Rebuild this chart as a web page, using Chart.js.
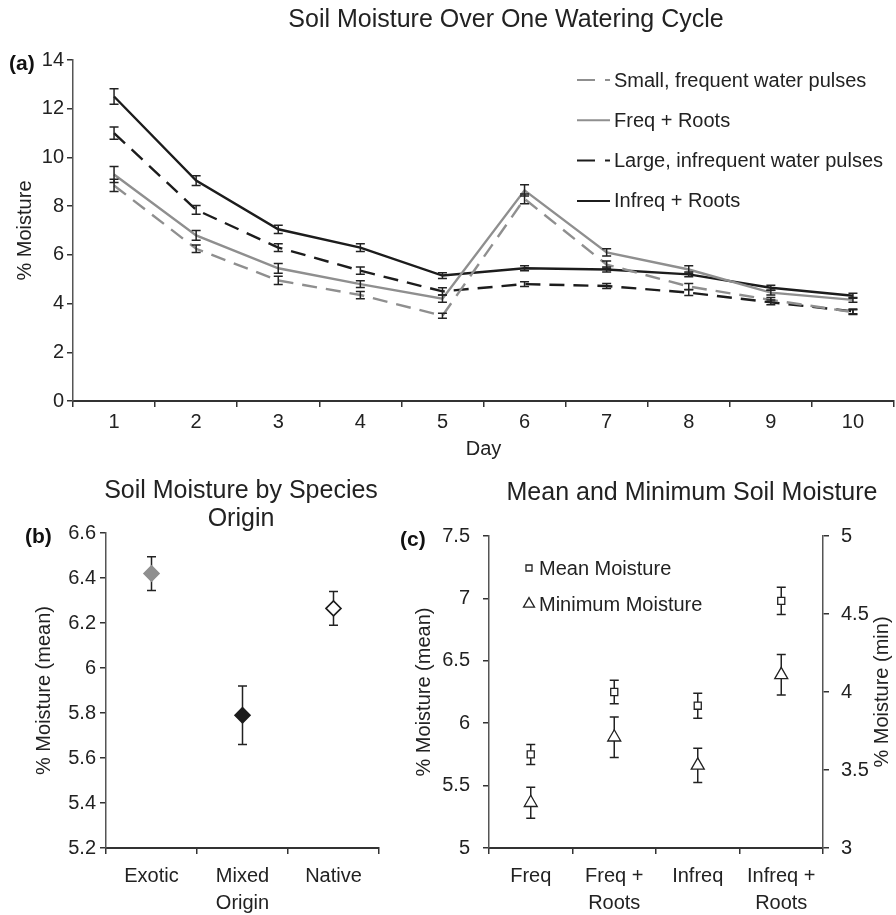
<!DOCTYPE html>
<html>
<head>
<meta charset="utf-8">
<title>Soil Moisture</title>
<script src="https://cdn.jsdelivr.net/npm/chart.js"></script>
<style>
  body { margin: 0; width: 896px; height: 915px; position: relative; overflow: hidden; background: #fff;
         font-family: "Liberation Sans", Arial, sans-serif; color: #222; }
  canvas { position: absolute; }
  .title { position: absolute; font-size: 25px; line-height: 28px; text-align: center;
           white-space: nowrap; transform: translateX(-50%); }
</style>
</head>
<body>
<canvas id="chartA" width="896" height="465" style="left:0;top:0"></canvas>
<canvas id="chartB" width="390" height="450" style="left:0;top:465px"></canvas>
<canvas id="chartC" width="506" height="450" style="left:390px;top:465px"></canvas>
<div class="title" style="left:506px;top:4px">Soil Moisture Over One Watering Cycle</div>
<div class="title" style="left:241px;top:475px">Soil Moisture by Species<br>Origin</div>
<div class="title" style="left:692px;top:477px">Mean and Minimum Soil Moisture</div>

<script>
// (a) soil moisture per day, mean and s.e.
const days = ['1', '2', '3', '4', '5', '6', '7', '8', '9', '10'];

const smallFreq      = [8.85, 6.25, 4.95, 4.35, 3.5, 8.3, 5.6, 4.7, 4.15, 3.65];
const smallFreqErr   = [0.25, 0.15, 0.17, 0.15, 0.1, 0.2, 0.15, 0.12, 0.1, 0.1];
const freqRoots      = [9.3, 6.8, 5.45, 4.8, 4.2, 8.65, 6.1, 5.4, 4.45, 4.15];
const freqRootsErr   = [0.33, 0.2, 0.2, 0.14, 0.15, 0.23, 0.15, 0.15, 0.1, 0.1];
const largeInfreq    = [11.0, 7.85, 6.3, 5.35, 4.5, 4.8, 4.72, 4.45, 4.05, 3.68];
const largeInfreqErr = [0.25, 0.18, 0.16, 0.15, 0.15, 0.1, 0.1, 0.12, 0.1, 0.1];
const infreqRoots    = [12.5, 9.05, 7.05, 6.3, 5.15, 5.45, 5.4, 5.2, 4.65, 4.32];
const infreqRootsErr = [0.32, 0.2, 0.17, 0.16, 0.12, 0.1, 0.1, 0.1, 0.1, 0.1];

// (b) by species origin
const origins    = ['Exotic', ['Mixed', 'Origin'], 'Native'];
const originMean = [6.42, 5.79, 6.265];
const originErr  = [0.075, 0.13, 0.075];

// (c) mean and minimum per treatment
const treatments   = ['Freq', ['Freq +', 'Roots'], 'Infreq', ['Infreq +', 'Roots']];
const meanMoisture = [5.75, 6.25, 6.14, 6.98];
const meanErr      = [0.08, 0.095, 0.1, 0.11];
const minMoisture  = [3.29, 3.71, 3.53, 4.11];
const minErr       = [0.1, 0.13, 0.11, 0.13];

const GRAY = '#8f8f8f';
const BLACK = '#1c1c1c';
const AXIS = '#333';
const FONT = '"Liberation Sans", Arial, sans-serif';

Chart.defaults.font.family = FONT;
Chart.defaults.font.size = 20;
Chart.defaults.color = '#222';

// error bars from the dataset's "errors" list, drawn through the y scale
const errorBars = {
  id: 'errorBars',
  draw(chart, o) {
    const ctx = chart.ctx;
    chart.data.datasets.forEach((ds, i) => {
      if (!ds.errors) return;
      const meta = chart.getDatasetMeta(i);
      const ys = chart.scales[meta.yAxisID];
      ctx.save();
      ctx.strokeStyle = o.color || '#222';
      ctx.lineWidth = 1.5;
      ctx.setLineDash([]);
      meta.data.forEach((pt, j) => {
        const top = ys.getPixelForValue(ds.data[j] + ds.errors[j]);
        const bot = ys.getPixelForValue(ds.data[j] - ds.errors[j]);
        const w = o.cap || 4.5;
        ctx.beginPath();
        ctx.moveTo(pt.x, top); ctx.lineTo(pt.x, bot);
        ctx.moveTo(pt.x - w, top); ctx.lineTo(pt.x + w, top);
        ctx.moveTo(pt.x - w, bot); ctx.lineTo(pt.x + w, bot);
        ctx.stroke();
      });
      ctx.restore();
    });
  },
  beforeDatasetsDraw(chart, args, o) { if (o.behind) this.draw(chart, o); },
  afterDatasetsDraw(chart, args, o) { if (!o.behind) this.draw(chart, o); }
};

// "(a)", "(b)", "(c)" next to the top of each y axis
const panelLabel = {
  id: 'panelLabel',
  afterDraw(chart, args, o) {
    const ctx = chart.ctx;
    ctx.save();
    ctx.font = 'bold 21px ' + FONT;
    ctx.fillStyle = '#111';
    ctx.textBaseline = 'middle';
    ctx.fillText(o.text, o.x, chart.chartArea.top + o.dy);
    ctx.restore();
  }
};

// line legend inside panel (a)
const lineKey = {
  id: 'lineKey',
  afterDraw(chart, args, o) {
    const ctx = chart.ctx;
    chart.data.datasets.forEach((ds, i) => {
      const y = o.y + i * o.step;
      ctx.save();
      ctx.strokeStyle = ds.borderColor;
      ctx.lineWidth = 2;
      ctx.setLineDash(ds.borderDash ? o.dash : []);
      ctx.beginPath();
      ctx.moveTo(o.x, y); ctx.lineTo(o.x + o.len, y);
      ctx.stroke();
      ctx.fillStyle = '#222';
      ctx.font = '20px ' + FONT;
      ctx.textBaseline = 'middle';
      ctx.fillText(ds.label, o.x + o.len + 4, y + 1);
      ctx.restore();
    });
  }
};

// marker legend inside panel (c)
const markerKey = {
  id: 'markerKey',
  afterDraw(chart, args, o) {
    const ctx = chart.ctx;
    chart.data.datasets.forEach((ds, i) => {
      const y = o.y + i * o.step;
      ctx.save();
      ctx.fillStyle = ds.pointBackgroundColor;
      ctx.strokeStyle = ds.pointBorderColor;
      ctx.lineWidth = ds.pointBorderWidth;
      Chart.helpers.drawPoint(ctx, { pointStyle: ds.pointStyle, radius: ds.pointRadius * o.scale, borderWidth: ds.pointBorderWidth, rotation: 0 }, o.x, y);
      ctx.fillStyle = '#222';
      ctx.font = '20px ' + FONT;
      ctx.textBaseline = 'middle';
      ctx.fillText(ds.label, o.x + 10, y + 1);
      ctx.restore();
    });
  }
};

// rotated title for the right-hand axis, reading bottom to top
const sideTitle = {
  id: 'sideTitle',
  afterDraw(chart, args, o) {
    const s = chart.scales[o.axis];
    const ctx = chart.ctx;
    ctx.save();
    ctx.translate(s.right - o.offset, (s.top + s.bottom) / 2);
    ctx.rotate(-Math.PI / 2);
    ctx.font = '20px ' + FONT;
    ctx.fillStyle = '#222';
    ctx.textAlign = 'center';
    ctx.textBaseline = 'middle';
    ctx.fillText(o.text, 0, 0);
    ctx.restore();
  }
};

function xAxis(height, tickPad, lineHeight) {
  return {
    type: 'category',
    offset: true,
    grid: { offset: true, drawOnChartArea: false, tickLength: 6, tickColor: AXIS, lineWidth: 1.5 },
    border: { color: AXIS, width: 2 },
    ticks: { padding: tickPad, maxRotation: 0, autoSkip: false, font: { size: 20, lineHeight: lineHeight } },
    afterFit: s => { s.height = height; }
  };
}

function yAxis(min, max, step, width, tickPad, title, titlePad, position) {
  return {
    position: position || 'left',
    min: min, max: max,
    grid: { drawOnChartArea: false, tickLength: 6, tickColor: AXIS, lineWidth: 1.5 },
    border: { color: '#555', width: 1.5 },
    ticks: { stepSize: step, padding: tickPad, callback: v => String(Math.round(v * 100) / 100) },
    title: { display: !!title, text: title, padding: { top: titlePad, bottom: 0 } },
    afterFit: s => { s.width = width; }
  };
}

// ---------- (a) ----------
const xa = xAxis(64, 3, 1.2);
xa.title = { display: true, text: 'Day', padding: { top: 0, bottom: 4 } };

new Chart(document.getElementById('chartA'), {
  type: 'line',
  data: {
    labels: days,
    datasets: [
      { label: 'Small, frequent water pulses', data: smallFreq, errors: smallFreqErr, borderColor: GRAY, borderDash: [15, 9] },
      { label: 'Freq + Roots', data: freqRoots, errors: freqRootsErr, borderColor: GRAY },
      { label: 'Large, infrequent water pulses', data: largeInfreq, errors: largeInfreqErr, borderColor: BLACK, borderDash: [15, 9] },
      { label: 'Infreq + Roots', data: infreqRoots, errors: infreqRootsErr, borderColor: BLACK }
    ]
  },
  options: {
    responsive: false,
    animation: false,
    layout: { padding: { top: 60, left: 0, right: 2, bottom: 0 } },
    elements: { point: { radius: 0 }, line: { borderWidth: 2.4, tension: 0 } },
    plugins: {
      legend: { display: false },
      tooltip: { enabled: false },
      errorBars: { behind: false },
      panelLabel: { text: '(a)', x: 9, dy: 4 },
      lineKey: { x: 577, y: 80, step: 40.3, len: 33, dash: [18, 10] }
    },
    scales: {
      x: xa,
      y: yAxis(0, 14, 2, 73, 3, '% Moisture', 13)
    }
  },
  plugins: [errorBars, panelLabel, lineKey]
});

// ---------- (b) ----------
new Chart(document.getElementById('chartB'), {
  type: 'line',
  data: {
    labels: origins,
    datasets: [{
      label: 'Species origin',
      data: originMean,
      errors: originErr,
      showLine: false,
      pointStyle: 'rectRot',
      pointRadius: 7.5,
      pointBackgroundColor: [GRAY, BLACK, '#ffffff'],
      pointBorderColor: [GRAY, BLACK, BLACK],
      pointBorderWidth: 1.6
    }]
  },
  options: {
    responsive: false,
    animation: false,
    layout: { padding: { top: 68, left: 0, right: 11, bottom: 0 } },
    plugins: {
      legend: { display: false },
      tooltip: { enabled: false },
      errorBars: { behind: true },
      panelLabel: { text: '(b)', x: 25, dy: 4 }
    },
    scales: {
      x: xAxis(67, 9, 1.35),
      y: yAxis(5.2, 6.6, 0.2, 106, 4, '% Moisture (mean)', 32)
    }
  },
  plugins: [errorBars, panelLabel]
});

// ---------- (c) ----------
const y2 = yAxis(3, 5, 0.5, 73, 12, '', 0, 'right');

new Chart(document.getElementById('chartC'), {
  type: 'line',
  data: {
    labels: treatments,
    datasets: [
      { label: 'Mean Moisture', data: meanMoisture, errors: meanErr, yAxisID: 'y', showLine: false,
        pointStyle: 'rect', pointRadius: 5, pointBackgroundColor: '#ffffff', pointBorderColor: '#222', pointBorderWidth: 1.3 },
      { label: 'Minimum Moisture', data: minMoisture, errors: minErr, yAxisID: 'y2', showLine: false,
        pointStyle: 'triangle', pointRadius: 7.5, pointBackgroundColor: '#ffffff', pointBorderColor: '#222', pointBorderWidth: 1.3 }
    ]
  },
  options: {
    responsive: false,
    animation: false,
    layout: { padding: { top: 71, left: 0, right: 0, bottom: 0 } },
    plugins: {
      legend: { display: false },
      tooltip: { enabled: false },
      errorBars: { behind: true },
      panelLabel: { text: '(c)', x: 10, dy: 4 },
      markerKey: { x: 139, y: 103, step: 36, scale: 0.85 },
      sideTitle: { axis: 'y2', text: '% Moisture (min)', offset: 14 }
    },
    scales: {
      x: xAxis(67, 9, 1.35),
      y: yAxis(5, 7.5, 0.5, 99, 13, '% Moisture (mean)', 22),
      y2: y2
    }
  },
  plugins: [errorBars, panelLabel, markerKey, sideTitle]
});
</script>
</body>
</html>
